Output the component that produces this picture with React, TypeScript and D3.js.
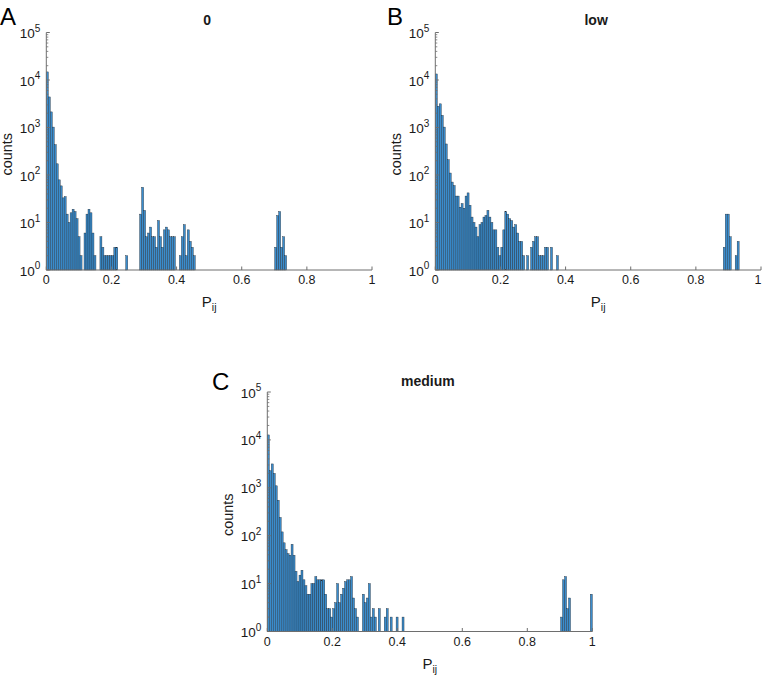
import React from "react";
import * as d3 from "d3";

// Histogram bin width (P_ij units)
const BIN_WIDTH = 1 / 164;

// Panel A ("0"): segments of consecutive bin counts [startBin, counts]
const segmentsA: [number, number[]][] = [
  [0, [14800, 4400, 2130, 1020, 435, 172, 79, 59, 33, 35, 15, 10, 16, 19, 17, 12, 5, 2]],
  [19, [6, 15, 19, 16, 6, 2]],
  [27, [5, 3, 2, 2, 2, 2, 2, 3, 3]],
  [40, [2]],
  [47, [15, 55, 18, 5, 6, 8, 5, 5, 3, 11, 5, 3, 7, 8, 7, 5, 5, 5]],
  [67, [2, 5, 9, 2, 7, 4, 3, 2]],
  [115, [3, 14, 17, 3, 5, 2]],
];

// Panel B ("low")
const segmentsB: [number, number[]][] = [
  [0, [13400, 2800, 3150, 1800, 1020, 450, 210, 110, 71, 60, 36, 36, 21, 25, 20, 36, 42, 23, 13, 10,
       8, 5, 9, 10, 13, 14, 18, 13, 10, 7, 7, 3, 2, 3, 7, 17, 15, 12, 11, 8, 9, 6, 4, 4, 2]],
  [46, [2]],
  [48, [3, 4, 5, 5, 2, 2, 2, 3, 3]],
  [58, [3]],
  [61, [2]],
  [145, [3, 15, 15, 5]],
  [151, [2, 4]],
];

// Panel C ("medium")
const segmentsC: [number, number[]][] = [
  [0, [12700, 2270, 3150, 2000, 1100, 550, 240, 120, 71, 51, 42, 39, 66, 39, 18, 11, 15, 19, 12, 9,
       6, 6, 10, 10, 14, 12, 12, 12, 12, 6, 3, 3, 2, 3, 4, 10, 4, 6, 8, 11, 12, 12, 14, 5, 3, 2]],
  [48, [6, 4, 5, 10, 2, 3, 2]],
  [56, [3]],
  [59, [2, 3]],
  [62, [2]],
  [65, [2]],
  [68, [2]],
  [148, [2, 12, 14, 3, 5]],
  [163, [6]],
];

const xTicks = [0, 0.2, 0.4, 0.6, 0.8, 1];
const xTickLabels = ["0", "0.2", "0.4", "0.6", "0.8", "1"];
const yExponents = [0, 1, 2, 3, 4, 5];

const FONT = "'Liberation Sans', Arial, Helvetica, sans-serif";
const AXIS = "#6e6e6e";
const TEXT = "#1a1a1a";
const W = 762;

type PanelProps = {
  segments: [number, number[]][];
  title: string;
  letter: string;
  letterX: number;
  letterY: number;
  x0: number;
  x1: number;
  yTop: number;
  yBot: number;
  titleY: number;
};

function Panel(p: PanelProps) {
  const x = d3.scaleLinear().domain([0, 1]).range([p.x0, p.x1]);
  const y = d3.scaleLog().domain([1, 1e5]).range([p.yBot, p.yTop]);
  const bins: { i: number; c: number }[] = [];
  p.segments.forEach(([start, counts]) => counts.forEach((c, k) => bins.push({ i: start + k, c })));
  const minor: number[] = [];
  for (let e = 0; e < 5; e++) for (let m = 2; m <= 9; m++) minor.push(m * Math.pow(10, e));
  const cx = (p.x0 + p.x1) / 2;
  const cy = (p.yTop + p.yBot) / 2 + 3;
  return (
    <g>
      {bins.filter((b) => b.c > 1).map((b) => {
        const xl = x(b.i * BIN_WIDTH);
        const xr = x((b.i + 1) * BIN_WIDTH);
        return (
          <rect key={b.i} x={xl} y={y(b.c)} width={xr - xl} height={p.yBot - y(b.c)}
            fill="#3a8ccc" stroke="#1e2a36" strokeWidth={0.4} />
        );
      })}
      <line x1={p.x0} x2={p.x1} y1={p.yBot} y2={p.yBot} stroke={AXIS} strokeWidth={1} />
      <line x1={p.x0} x2={p.x0} y1={p.yTop} y2={p.yBot} stroke={AXIS} strokeWidth={1} />
      {xTicks.map((t, k) => (
        <g key={"xt" + k}>
          <line x1={x(t)} x2={x(t)} y1={p.yBot} y2={p.yBot - 3.5} stroke={AXIS} />
          <text x={Math.min(x(t), W - 4)} y={p.yBot + 14} textAnchor="middle" fontSize={12.5} fontFamily={FONT} fill={TEXT}>
            {xTickLabels[k]}
          </text>
        </g>
      ))}
      {minor.map((m, k) => (
        <line key={"mt" + k} x1={p.x0} x2={p.x0 + 2} y1={y(m)} y2={y(m)} stroke={AXIS} strokeWidth={0.8} />
      ))}
      {yExponents.map((e) => (
        <g key={"yt" + e}>
          <line x1={p.x0} x2={p.x0 + 3.5} y1={y(Math.pow(10, e))} y2={y(Math.pow(10, e))} stroke={AXIS} />
          <text x={p.x0 - 6} y={y(Math.pow(10, e)) + 5.5} textAnchor="end" fontSize={13.5} fontFamily={FONT} fill={TEXT}>
            10<tspan dy={-6.5} fontSize={10}>{e}</tspan>
          </text>
        </g>
      ))}
      <text x={cx} y={p.yBot + 37} textAnchor="middle" fontSize={15} fontFamily={FONT} fill={TEXT}>
        P<tspan dy={4} fontSize={10.5}>ij</tspan>
      </text>
      <text transform={`translate(${p.x0 - 34},${cy}) rotate(-90)`} textAnchor="middle" fontSize={14.5}
        fontFamily={FONT} fill={TEXT}>counts</text>
      <text x={cx - 2} y={p.titleY} textAnchor="middle" fontSize={14} fontWeight="bold" fontFamily={FONT} fill={TEXT}>
        {p.title}
      </text>
      <text x={p.letterX} y={p.letterY} fontSize={24} fontFamily={FONT} fill="#000">{p.letter}</text>
    </g>
  );
}

export default function App() {
  return (
    <svg width={W} height={679} style={{ position: "absolute", left: 0, top: 0, background: "#fff" }}>
      <Panel segments={segmentsA} title="0" letter="A" letterX={0} letterY={25}
        x0={46.3} x1={372} yTop={32.5} yBot={270} titleY={25} />
      <Panel segments={segmentsB} title="low" letter="B" letterX={387} letterY={25}
        x0={435.3} x1={761} yTop={32.5} yBot={270} titleY={25} />
      <Panel segments={segmentsC} title="medium" letter="C" letterX={212} letterY={390}
        x0={267.3} x1={592.3} yTop={392} yBot={631.5} titleY={386} />
    </svg>
  );
}
